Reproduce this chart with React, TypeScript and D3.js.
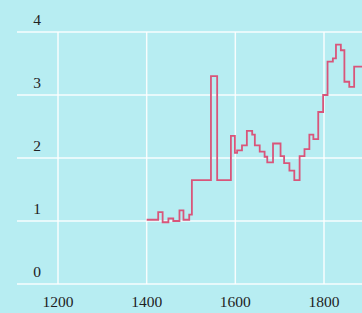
import React from "react";
import * as d3 from "d3";

const years = [1400, 1426, 1436, 1449, 1460, 1474, 1483, 1496, 1502, 1545, 1559, 1590, 1599, 1604, 1615, 1626, 1638, 1644, 1655, 1666, 1672, 1685, 1702, 1710, 1722, 1733, 1745, 1756, 1767, 1776, 1787, 1798, 1808, 1820, 1827, 1838, 1846, 1857, 1868, 1890];
const values = [1.02, 1.14, 0.98, 1.04, 1.0, 1.17, 1.02, 1.1, 1.65, 3.3, 1.65, 2.35, 2.08, 2.12, 2.2, 2.43, 2.37, 2.2, 2.1, 2.02, 1.93, 2.23, 2.03, 1.92, 1.8, 1.65, 2.03, 2.14, 2.37, 2.3, 2.73, 3.0, 3.53, 3.58, 3.8, 3.71, 3.21, 3.13, 3.45, 3.45];
const xTicks = [1200, 1400, 1600, 1800];
const yTicks = [0, 1, 2, 3, 4];

const W = 362;
const H = 313;

export default function App() {
  const x = d3.scaleLinear().domain([1200, 1800]).range([58, 324]);
  const y = d3.scaleLinear().domain([0, 4]).range([284, 32]);
  const data = years.map((yr, i) => ({ yr, v: values[i] }));
  const line = d3
    .line<{ yr: number; v: number }>()
    .x((d) => x(d.yr))
    .y((d) => y(d.v))
    .curve(d3.curveStepAfter);
  const left = 17;
  const right = W;
  return (
    <svg
      width={W}
      height={H}
      style={{ position: "fixed", top: 0, left: 0, display: "block" }}
    >
      <rect x={0} y={0} width={W} height={H} fill="#b7edf2" />
      <defs>
        <clipPath id="plot">
          <rect x={left} y={0} width={right - left} height={y(0) + 1} />
        </clipPath>
      </defs>
      {yTicks.map((t) => (
        <line
          key={"gy" + t}
          x1={left}
          x2={right}
          y1={y(t)}
          y2={y(t)}
          stroke="#ffffff"
          strokeWidth={1.5}
          opacity={0.9}
        />
      ))}
      {xTicks.map((t) => (
        <line
          key={"gx" + t}
          x1={x(t)}
          x2={x(t)}
          y1={y(4)}
          y2={y(0)}
          stroke="#ffffff"
          strokeWidth={1.5}
          opacity={0.9}
        />
      ))}
      <path
        d={line(data) || ""}
        fill="none"
        stroke="#d9557a"
        strokeWidth={1.8}
        clipPath="url(#plot)"
      />
      {yTicks.map((t) => (
        <text
          key={"ly" + t}
          x={37}
          y={y(t) - 7}
          textAnchor="middle"
          fontFamily="'Liberation Serif', serif"
          fontSize={15.5}
          fill="#222222"
        >
          {t}
        </text>
      ))}
      {xTicks.map((t) => (
        <text
          key={"lx" + t}
          x={x(t)}
          y={307}
          textAnchor="middle"
          fontFamily="'Liberation Serif', serif"
          fontSize={15.5}
          fill="#1e1e1e"
        >
          {t}
        </text>
      ))}
    </svg>
  );
}
